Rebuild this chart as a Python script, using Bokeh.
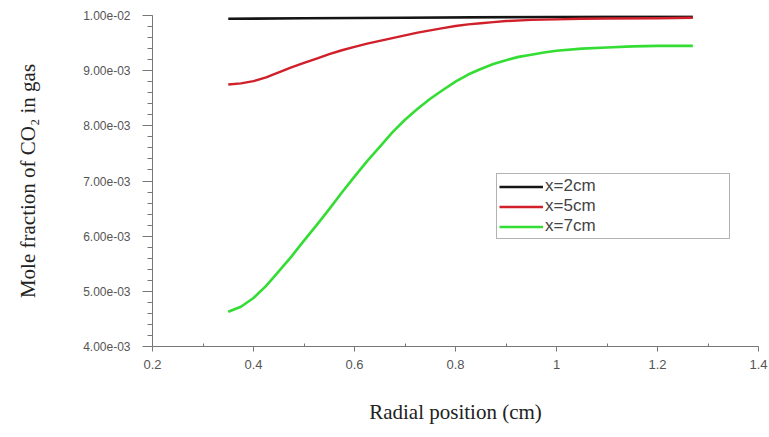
import numpy as np
from bokeh.plotting import figure
from bokeh.models import FixedTicker, CustomJSTickFormatter, Legend, LegendItem, Range1d
from bokeh.embed import file_html
from bokeh.resources import INLINE

# ---- data ----
radial_2cm = [0.35, 0.50, 0.70, 0.90, 1.10, 1.27]
co2_2cm = [0.00994, 0.00995, 0.00996, 0.00997, 0.00998, 0.00998]

radial_5cm = [0.35, 0.375, 0.40, 0.425, 0.45, 0.475, 0.50, 0.525, 0.55, 0.575,
              0.60, 0.625, 0.65, 0.675, 0.70, 0.725, 0.75, 0.775, 0.80, 0.825,
              0.85, 0.875, 0.90, 0.95, 1.00, 1.05, 1.10, 1.20, 1.27]
co2_5cm = [0.00875, 0.00877, 0.00881, 0.00888, 0.00897, 0.00906, 0.00914,
           0.00922, 0.00930, 0.00937, 0.00943, 0.00949, 0.00954, 0.00959,
           0.00964, 0.00969, 0.00973, 0.00977, 0.00981, 0.00984, 0.00986,
           0.00988, 0.00990, 0.00992, 0.00993, 0.00994, 0.009945, 0.00995,
           0.00996]

radial_7cm = [0.35, 0.375, 0.40, 0.425, 0.45, 0.475, 0.50, 0.525, 0.55, 0.575,
              0.60, 0.625, 0.65, 0.675, 0.70, 0.725, 0.75, 0.775, 0.80, 0.825,
              0.85, 0.875, 0.90, 0.925, 0.95, 0.975, 1.00, 1.05, 1.10, 1.15,
              1.20, 1.27]
co2_7cm = [0.00463, 0.00472, 0.00488, 0.00510, 0.00536, 0.00563, 0.00592,
           0.00620, 0.00649, 0.00679, 0.00708, 0.00736, 0.00762, 0.00788,
           0.00811, 0.00831, 0.00849, 0.00865, 0.00880, 0.00893, 0.00903,
           0.00912, 0.00919, 0.00925, 0.00929, 0.00933, 0.00936, 0.00940,
           0.00942, 0.00944, 0.00945, 0.00945]

series_labels = ["x=2cm", "x=5cm", "x=7cm"]

x_ticks = [0.2, 0.4, 0.6, 0.8, 1.0, 1.2, 1.4]
x_minor_ticks = [0.3, 0.5, 0.7, 0.9, 1.1, 1.3]
y_ticks = [0.004, 0.005, 0.006, 0.007, 0.008, 0.009, 0.010]
y_minor_ticks = [round(v, 5) for v in np.arange(0.004, 0.01001, 0.0002)]

x_label = "Radial position (cm)"
y_label = "Mole fraction of CO\u2082 in gas"

# ---- figure ----
p = figure(width=769, height=437, output_backend="svg", toolbar_location=None,
           x_range=Range1d(0.2, 1.4), y_range=Range1d(0.004, 0.010),
           min_border_left=152, min_border_right=11, min_border_top=15,
           min_border_bottom=91)
p.outline_line_color = None
p.grid.visible = False
p.background_fill_color = "white"
p.border_fill_color = "white"

r1 = p.line(radial_2cm, co2_2cm, line_color="#151515", line_width=2.6,
            line_join="round")
r2 = p.line(radial_5cm, co2_5cm, line_color="#d0202a", line_width=2.4,
            line_join="round")
r3 = p.line(radial_7cm, co2_7cm, line_color="#33dd33", line_width=2.6,
            line_join="round")

# x axis
xa = p.xaxis[0]
xa.ticker = FixedTicker(ticks=x_ticks, minor_ticks=x_minor_ticks)
xa.formatter = CustomJSTickFormatter(code="return String(Math.round(tick*10)/10);")
xa.axis_label = x_label
xa.axis_label_text_font = "Liberation Serif"
xa.axis_label_text_font_style = "normal"
xa.axis_label_text_font_size = "21px"
xa.axis_label_text_color = "#222222"
xa.axis_label_standoff = 28
xa.major_label_text_font = "Liberation Sans"
xa.major_label_text_font_size = "13px"
xa.major_label_text_color = "#555555"
xa.major_label_standoff = 8
xa.axis_line_color = "#777777"
xa.major_tick_line_color = "#777777"
xa.minor_tick_line_color = "#777777"
xa.major_tick_out = 5
xa.major_tick_in = 0
xa.minor_tick_out = 0
xa.minor_tick_in = 3

# y axis
ya = p.yaxis[0]
ya.ticker = FixedTicker(ticks=y_ticks, minor_ticks=y_minor_ticks)
ya.formatter = CustomJSTickFormatter(code="""
const s = tick.toExponential(2);
const parts = s.split('e');
const n = parseInt(parts[1]);
const sign = n < 0 ? '-' : '+';
const a = Math.abs(n);
return parts[0] + 'e' + sign + (a < 10 ? '0' + a : '' + a);
""")
ya.axis_label = y_label
ya.axis_label_text_font = "Liberation Serif"
ya.axis_label_text_font_style = "normal"
ya.axis_label_text_font_size = "21px"
ya.axis_label_text_color = "#222222"
ya.axis_label_standoff = 40
ya.major_label_text_font = "Liberation Sans"
ya.major_label_text_font_size = "12px"
ya.major_label_text_color = "#555555"
ya.major_label_standoff = 12
ya.axis_line_color = "#777777"
ya.major_tick_line_color = "#777777"
ya.minor_tick_line_color = "#777777"
ya.major_tick_out = 10
ya.major_tick_in = 0
ya.minor_tick_out = 5
ya.minor_tick_in = 0

legend = Legend(items=[LegendItem(label=series_labels[0], renderers=[r1]),
                       LegendItem(label=series_labels[1], renderers=[r2]),
                       LegendItem(label=series_labels[2], renderers=[r3])],
                location=(344, 107))
legend.label_text_font = "Liberation Sans"
legend.label_text_font_size = "17px"
legend.label_text_color = "#444444"
legend.glyph_width = 44
legend.glyph_height = 19
legend.label_height = 19
legend.label_width = 182
legend.label_standoff = 2
legend.padding = 2
legend.spacing = 0
legend.margin = 0
legend.border_line_color = "#666666"
legend.border_line_width = 1.5
legend.background_fill_color = "white"
legend.background_fill_alpha = 1.0
p.add_layout(legend)

open("out.html", "w").write(file_html(p, INLINE))
